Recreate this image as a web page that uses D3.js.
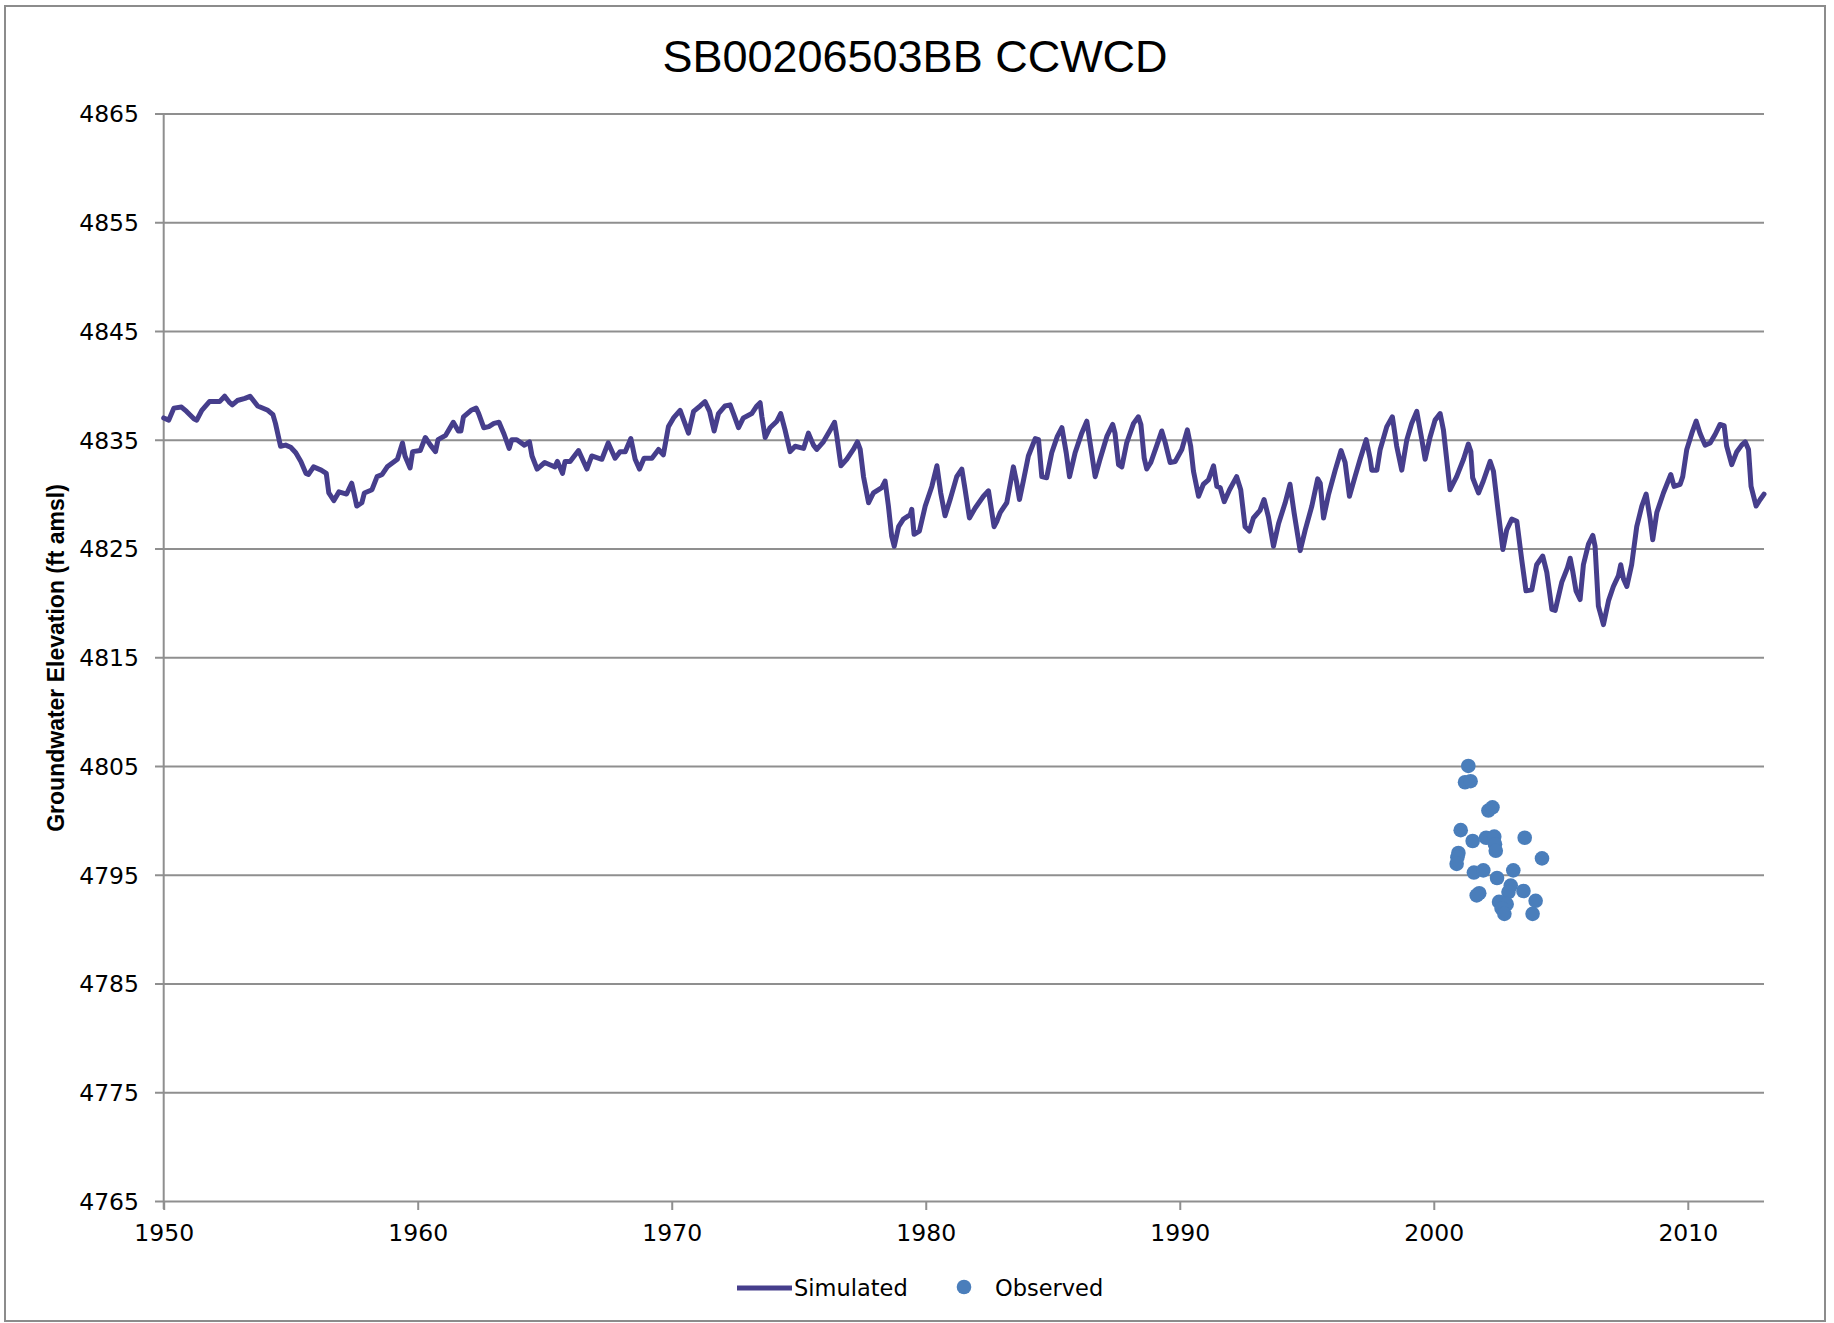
<!DOCTYPE html>
<html><head><meta charset="utf-8">
<script src="https://cdn.jsdelivr.net/npm/d3@7"></script>
<style>html,body{margin:0;padding:0;background:#fff;}svg{display:block;}</style>
</head><body>
<svg id="chart" width="1834" height="1323"></svg>
<script>
const titleText = "SB00206503BB CCWCD";
const yTitle = "Groundwater Elevation (ft amsl)";
const yTicks = [4765, 4775, 4785, 4795, 4805, 4815, 4825, 4835, 4845, 4855, 4865];
const xTicks = [1950, 1960, 1970, 1980, 1990, 2000, 2010];
const seriesNames = ["Simulated", "Observed"];

const simYears = [
1950.0,1950.2,1950.4,1950.7,1950.9,1951.2,1951.3,1951.5,1951.8,1952.2,1952.4,1952.6,1952.7,1952.9,1953.2,1953.4,1953.7,1954.1,1954.3,1954.4,
1954.6,1954.8,1955.0,1955.2,1955.4,1955.6,1955.7,1955.9,1956.2,1956.4,1956.5,1956.7,1956.9,1957.2,1957.4,1957.5,1957.6,1957.8,1957.9,1958.2,
1958.4,1958.6,1958.8,1959.2,1959.4,1959.5,1959.7,1959.8,1960.1,1960.3,1960.5,1960.7,1960.8,1961.1,1961.4,1961.6,1961.7,1961.8,1962.1,1962.3,
1962.4,1962.6,1962.8,1963.0,1963.2,1963.4,1963.6,1963.7,1963.9,1964.2,1964.4,1964.5,1964.7,1965.0,1965.2,1965.4,1965.5,1965.7,1965.8,1966.0,
1966.33,1966.66,1966.85,1967.25,1967.5,1967.77,1967.97,1968.17,1968.39,1968.56,1968.73,1968.91,1969.22,1969.48,1969.67,1969.87,1970.07,1970.33,1970.66,1970.86,
1971.12,1971.31,1971.49,1971.67,1971.84,1972.1,1972.3,1972.43,1972.63,1972.82,1973.15,1973.35,1973.48,1973.55,1973.68,1973.87,1974.14,1974.29,1974.46,1974.66,
1974.86,1975.19,1975.38,1975.58,1975.71,1975.97,1976.24,1976.41,1976.5,1976.66,1976.89,1977.15,1977.31,1977.42,1977.55,1977.75,1977.94,1978.27,1978.4,1978.53,
1978.66,1978.76,1978.93,1979.12,1979.39,1979.45,1979.54,1979.75,1979.98,1980.24,1980.44,1980.59,1980.76,1980.96,1981.22,1981.42,1981.55,1981.72,1981.94,1982.27,
1982.47,1982.69,1982.8,1982.93,1983.19,1983.45,1983.56,1983.69,1983.85,1984.04,1984.31,1984.44,1984.57,1984.76,1984.96,1985.18,1985.36,1985.53,1985.66,1985.88,
1986.14,1986.34,1986.47,1986.67,1986.86,1987.13,1987.36,1987.45,1987.59,1987.72,1987.91,1988.18,1988.37,1988.47,1988.6,1988.7,1988.86,1989.1,1989.29,1989.42,
1989.62,1989.82,1990.08,1990.3,1990.43,1990.54,1990.74,1990.93,1991.13,1991.33,1991.46,1991.59,1991.75,1991.96,1992.24,1992.4,1992.57,1992.74,1992.9,1993.16,
1993.32,1993.49,1993.69,1993.89,1994.15,1994.34,1994.5,1994.74,1994.94,1995.2,1995.43,1995.53,1995.66,1995.85,1996.12,1996.35,1996.51,1996.68,1996.9,1997.1,
1997.34,1997.5,1997.56,1997.76,1997.89,1998.15,1998.37,1998.54,1998.74,1998.94,1999.13,1999.33,1999.53,1999.66,1999.85,2000.05,2000.25,2000.38,2000.64,2000.9,
2001.17,2001.36,2001.46,2001.53,2001.76,2001.95,2002.22,2002.35,2002.51,2002.72,2002.87,2003.07,2003.27,2003.46,2003.63,2003.86,2004.05,2004.29,2004.45,2004.65,
2004.78,2005.04,2005.26,2005.37,2005.47,2005.6,2005.76,2005.89,2006.09,2006.26,2006.35,2006.48,2006.68,2006.88,2007.07,2007.27,2007.36,2007.47,2007.6,2007.79,
2007.99,2008.19,2008.36,2008.52,2008.62,2008.78,2009.04,2009.33,2009.46,2009.7,2009.8,2009.96,2010.16,2010.33,2010.48,2010.68,2010.88,2011.08,2011.27,2011.43,
2011.53,2011.73,2011.93,2012.12,2012.26,2012.39,2012.49,2012.69,2012.85,2013.0
];
const simValues = [
4837.0,4836.8,4837.9,4838.0,4837.6,4836.9,4836.8,4837.7,4838.5,4838.5,4839.0,4838.4,4838.2,4838.6,4838.8,4839.0,4838.1,4837.7,4837.3,4836.5,
4834.4,4834.5,4834.3,4833.8,4833.0,4831.9,4831.8,4832.5,4832.2,4831.9,4830.1,4829.4,4830.2,4830.0,4831.0,4830.0,4828.9,4829.2,4830.1,4830.4,
4831.6,4831.8,4832.5,4833.2,4834.7,4833.5,4832.4,4833.9,4834.0,4835.2,4834.5,4833.9,4835.0,4835.4,4836.6,4835.8,4835.8,4837.1,4837.7,4837.9,
4837.4,4836.1,4836.2,4836.5,4836.6,4835.5,4834.2,4835.0,4835.0,4834.5,4834.8,4833.5,4832.3,4832.9,4832.7,4832.5,4833.0,4831.9,4833.0,4833.0,
4834.0,4832.3,4833.5,4833.2,4834.7,4833.3,4833.9,4833.9,4835.1,4833.2,4832.3,4833.3,4833.3,4834.1,4833.6,4836.2,4837.0,4837.7,4835.6,4837.6,
4838.1,4838.5,4837.6,4835.8,4837.4,4838.1,4838.2,4837.4,4836.1,4837.0,4837.4,4838.1,4838.4,4837.1,4835.2,4836.1,4836.7,4837.4,4835.9,4833.9,
4834.4,4834.2,4835.6,4834.5,4834.1,4834.8,4835.9,4836.6,4835.3,4832.6,4833.2,4834.1,4834.8,4834.1,4831.6,4829.2,4830.1,4830.6,4831.2,4828.9,
4826.1,4825.2,4827.0,4827.7,4828.1,4828.6,4826.3,4826.6,4828.9,4830.7,4832.6,4830.1,4828.0,4829.5,4831.6,4832.3,4830.4,4827.8,4828.7,4829.8,
4830.3,4827.0,4827.5,4828.3,4829.2,4832.5,4831.3,4829.5,4831.3,4833.5,4835.1,4835.0,4831.6,4831.5,4833.8,4835.3,4836.1,4833.8,4831.6,4833.8,
4835.6,4836.7,4834.7,4831.6,4833.2,4835.3,4836.4,4835.6,4832.7,4832.5,4834.7,4836.5,4837.1,4836.4,4833.3,4832.3,4832.9,4834.5,4835.8,4834.8,
4832.9,4833.0,4834.1,4835.9,4834.4,4832.1,4829.8,4830.9,4831.3,4832.6,4830.7,4830.6,4829.3,4830.4,4831.6,4830.4,4827.0,4826.6,4827.8,4828.5,
4829.5,4827.9,4825.2,4827.3,4829.2,4830.9,4828.3,4824.8,4826.7,4828.9,4831.4,4831.0,4827.8,4829.9,4832.2,4834.0,4832.9,4829.8,4831.6,4833.2,
4835.0,4833.2,4832.2,4832.2,4834.1,4836.2,4837.1,4834.4,4832.2,4835.0,4836.5,4837.6,4835.0,4833.2,4835.2,4836.8,4837.4,4835.9,4830.4,4831.6,
4833.2,4834.6,4833.9,4831.5,4830.1,4831.2,4833.0,4832.1,4828.9,4824.9,4826.7,4827.7,4827.5,4824.0,4821.1,4821.2,4823.5,4824.3,4822.8,4819.4,
4819.3,4821.9,4823.2,4824.1,4822.9,4821.1,4820.3,4823.5,4825.4,4826.2,4825.2,4819.7,4818.0,4820.2,4821.5,4822.5,4823.5,4822.2,4821.5,4823.5,
4827.0,4828.9,4830.0,4827.7,4825.8,4828.3,4830.1,4831.8,4830.7,4830.9,4831.6,4834.1,4835.6,4836.7,4835.6,4834.5,4834.7,4835.5,4836.4,4836.3,
4834.4,4832.7,4833.9,4834.5,4834.8,4834.1,4830.7,4828.9,4829.5,4830.0
];

const obsYears = [2001.36,2001.23,2001.45,2002.15,2002.31,2001.06,2001.53,2002.06,2002.38,2002.41,2002.44,2003.58,2000.97,2000.93,2000.90,2004.26,2001.58,2001.95,2002.49,2003.13,2003.03,2002.94,2003.53,2001.79,2001.69,2002.57,2002.87,2002.67,2002.78,2004.01,2003.89];
const obsValues = [4805.0,4803.5,4803.6,4800.9,4801.2,4799.1,4798.1,4798.4,4798.5,4797.8,4797.2,4798.4,4797.0,4796.6,4796.0,4796.5,4795.2,4795.4,4794.7,4795.4,4794.0,4793.4,4793.5,4793.3,4793.1,4792.5,4792.3,4791.9,4791.4,4792.6,4791.4];

const lineColor = "#463e8c";
const dotColor = "#4a7ebb";
const gridColor = "#8f8f8f";

const svg = d3.select("#chart");
svg.append("rect").attr("x", 5).attr("y", 6).attr("width", 1820).attr("height", 1315)
  .attr("fill", "#fff").attr("stroke", "#8c8c8c").attr("stroke-width", 2);

const x = d3.scaleLinear().domain([1950, 2013]).range([163.7, 1764]);
const y = d3.scaleLinear().domain([4765, 4865]).range([1201, 113.4]);

// gridlines + y ticks
const yAxis = d3.axisLeft(y).tickValues(yTicks).tickSize(-(1764 - 155)).tickPadding(0).tickFormat(d3.format("d"));
const gy = svg.append("g").attr("transform", "translate(155,0)").call(yAxis);
gy.select(".domain").remove();
gy.selectAll(".tick line").attr("stroke", gridColor).attr("stroke-width", 2).attr("x1", 0).attr("x2", 1764 - 155);
gy.selectAll(".tick text").attr("x", -16).attr("dy", "0.36em")
  .attr("font-family", "DejaVu Sans").attr("font-size", 23.5).attr("fill", "#000").attr("text-anchor", "end");

// y axis line
svg.append("line").attr("x1", x(1950)).attr("x2", x(1950)).attr("y1", y(4865)).attr("y2", y(4765) + 8)
  .attr("stroke", gridColor).attr("stroke-width", 2);

// x axis
const xAxis = d3.axisBottom(x).tickValues(xTicks).tickSize(9).tickPadding(14).tickFormat(d3.format("d"));
const gx = svg.append("g").attr("transform", `translate(0,${y(4765)})`).call(xAxis);
gx.select(".domain").remove();
gx.selectAll(".tick line").attr("stroke", gridColor).attr("stroke-width", 2);
gx.selectAll(".tick text").attr("font-family", "DejaVu Sans").attr("font-size", 23.5).attr("fill", "#000");

// title
svg.append("text").attr("x", 915).attr("y", 72).attr("text-anchor", "middle")
  .attr("font-family", "Liberation Sans, Arial, sans-serif").attr("font-size", 45).attr("fill", "#000").text(titleText);

// y title
svg.append("text").attr("transform", "translate(64,658) rotate(-90)").attr("text-anchor", "middle")
  .attr("font-family", "Liberation Sans, Arial, sans-serif").attr("font-weight", "bold").attr("font-size", 23)
  .attr("fill", "#000").text(yTitle);

// simulated line
const simData = simYears.map((yr, i) => [yr, simValues[i]]);
const line = d3.line().x(d => x(d[0])).y(d => y(d[1]));
svg.append("path").datum(simData).attr("d", line).attr("fill", "none")
  .attr("stroke", lineColor).attr("stroke-width", 5).attr("stroke-linejoin", "round").attr("stroke-linecap", "round");

// observed points
const obsData = obsYears.map((yr, i) => [yr, obsValues[i]]);
svg.append("g").selectAll("circle").data(obsData).join("circle")
  .attr("cx", d => x(d[0])).attr("cy", d => y(d[1])).attr("r", 7.3).attr("fill", dotColor);

// legend
const lg = svg.append("g");
lg.append("line").attr("x1", 737).attr("x2", 792).attr("y1", 1288).attr("y2", 1288)
  .attr("stroke", lineColor).attr("stroke-width", 5);
lg.append("text").attr("x", 794).attr("y", 1296).attr("font-family", "DejaVu Sans").attr("font-size", 22.5).attr("fill", "#000").text(seriesNames[0]);
lg.append("circle").attr("cx", 964).attr("cy", 1287).attr("r", 7.3).attr("fill", dotColor);
lg.append("text").attr("x", 995).attr("y", 1296).attr("font-family", "DejaVu Sans").attr("font-size", 22.5).attr("fill", "#000").text(seriesNames[1]);
</script>
</body></html>
